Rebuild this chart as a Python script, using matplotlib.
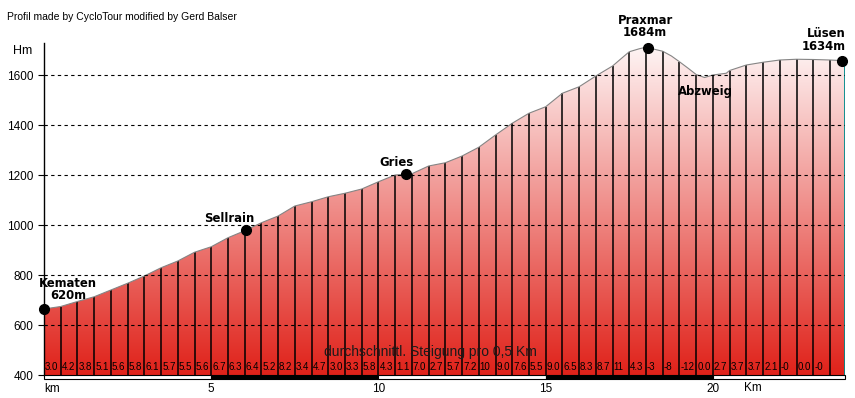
import numpy as np
import matplotlib
matplotlib.use("Agg")
import matplotlib.pyplot as plt
from matplotlib.colors import LinearSegmentedColormap
from matplotlib.patches import Polygon, Rectangle

# ---- data ----
profile_km = [0, 0.5, 1.0, 1.5, 2.0, 2.5, 3.0, 3.5, 4.0, 4.5, 5.0, 5.5, 6.0, 6.5, 7.0,
              7.5, 8.0, 8.5, 9.0, 9.5, 10.0, 10.5, 11.0, 11.5, 12.0, 12.5, 13.0, 13.5,
              14.0, 14.5, 15.0, 15.5, 16.0, 16.5, 17.0, 17.27, 17.5, 17.8, 18.0, 18.5,
              18.76, 19.0, 19.26, 19.5, 19.75, 20.0, 20.4, 20.5, 21.0, 21.5, 22.0,
              22.5, 23.0, 23.5, 23.95]
profile_elev = [664, 674, 694, 713, 740, 767, 796, 829, 856, 891, 913, 949, 977, 1009,
                1036, 1076, 1093, 1113, 1127, 1144, 1173, 1200, 1205, 1236, 1249, 1276,
                1311, 1360, 1407, 1447, 1473, 1527, 1553, 1596, 1636, 1667, 1693, 1705,
                1711, 1695, 1676, 1653, 1627, 1602, 1590, 1600, 1607, 1618, 1640, 1651,
                1660, 1663, 1662, 1660, 1657]

stop_names = ["Kematen", "Sellrain", "Gries", "Praxmar", "Abzweig", "Lüsen"]
stop_alt_labels = ["620m", "", "", "1684m", "", "1634m"]
stop_km = [0.0, 6.04, 10.82, 18.06, None, 23.86]

gradients = ["3.0", "4.2", "3.8", "5.1", "5.6", "5.8", "6.1", "5.7", "5.5", "5.6",
             "6.7", "6.3", "6.4", "5.2", "8.2", "3.4", "4.7", "3.0", "3.3", "5.8",
             "4.3", "1.1", "7.0", "2.7", "5.7", "7.2", "10", "9.0", "7.6", "5.5",
             "9.0", "6.5", "8.3", "8.7", "11", "4.3", "-3", "-8", "-12", "0.0",
             "2.7", "3.7", "3.7", "2.1", "-0", "0.0", "-0", ""]

y_ticks = [400, 600, 800, 1000, 1200, 1400, 1600]
x_tick_km = [5, 10, 15, 20]

# ---- figure ----
total = profile_km[-1]
YMIN, YMAX = 400, 1728
REG = ["Liberation Sans", "DejaVu Sans"]
BOLD = ["DejaVu Sans"]

fig = plt.figure(figsize=(8.55, 3.98), dpi=100)
fig.patch.set_facecolor("white")
ax = fig.add_axes([44 / 855, 23 / 398, 801 / 855, 332 / 398])

km = np.array(profile_km)
el = np.array(profile_elev)

# gradient fill clipped to the profile
cmap = LinearSegmentedColormap.from_list("rg", ["#e0221a", "#fffafa"])
grad = np.linspace(0, 1, 256).reshape(-1, 1)
img = ax.imshow(grad, extent=[0, total, 400, 1750], origin="lower", cmap=cmap,
                aspect="auto", zorder=1, interpolation="bilinear")
verts = list(zip(km, el)) + [(total, 400), (0, 400)]
poly = Polygon(verts, closed=True, facecolor="none", edgecolor="none",
               transform=ax.transData)
ax.add_patch(poly)
img.set_clip_path(poly)

# outline
ax.plot(km, el, color="#858585", lw=0.8, zorder=3)

# vertical lines every 0.5 km
xs = np.arange(0.5, total, 0.5)
tops = np.interp(xs, km, el)
ax.vlines(xs, 400, tops, color="black", lw=1.1, zorder=2)
ax.vlines(total, 400, el[-1], color="#008b8b", lw=1.3, zorder=3)

# dashed grid
for y in y_ticks[1:]:
    ax.axhline(y, color="black", lw=0.8, linestyle=(0, (3, 3)), zorder=4)

# dots
dk = [k for k in stop_km if k is not None]
ax.plot(dk, np.interp(dk, km, el), "o", color="black", ms=7, zorder=6, clip_on=False)

# stop labels (position in data coords: x, y of block centre, alignment)
label_pos = {
    "Kematen": (0.72, 742, "center"),
    "Sellrain": (5.53, 1024, "center"),
    "Gries": (10.55, 1252, "center"),
    "Praxmar": (17.97, 1795, "center"),
    "Abzweig": (19.79, 1536, "center"),
    "Lüsen": (23.97, 1740, "right"),
}
for name, alt in zip(stop_names, stop_alt_labels):
    x, y, ha = label_pos[name]
    txt = name + ("\n" + alt if alt else "")
    ax.text(x, y, txt, ha=ha, va="center", multialignment=ha, linespacing=0.95,
            fontsize=8.4, fontweight="bold", family=BOLD, zorder=7, clip_on=False)

# gradient labels
for i, g in enumerate(gradients):
    ax.text(i * 0.5 + 0.03, 432, g, ha="left", va="center", fontsize=7,
            family=REG, color="black", zorder=5)

ax.text(11.55, 492, "durchschnittl. Steigung pro 0,5 Km", ha="center", va="center",
        fontsize=10, family=REG, color="#1a1a1a", zorder=5)

# scale bar
for i in range(5):
    x0 = i * 5
    x1 = min((i + 1) * 5, total)
    ax.add_patch(Rectangle((x0, 384), x1 - x0, 15,
                           facecolor="white" if i % 2 == 0 else "black",
                           edgecolor="black", lw=0.8, clip_on=False, zorder=5))

# x labels
for k in x_tick_km:
    ax.text(k, 344, str(k), ha="center", va="center", fontsize=8.5, family=REG,
            clip_on=False)
ax.text(0, 344, "km", ha="left", va="center", fontsize=8.5, family=REG, clip_on=False)
ax.text(21.2, 348, "Km", ha="center", va="center", fontsize=8.5, family=REG,
        clip_on=False)

# y axis
ax.set_xlim(0, total)
ax.set_ylim(YMIN, YMAX)
ax.set_xticks([])
ax.set_yticks(y_ticks)
ax.set_yticklabels([str(v) for v in y_ticks], family=REG, fontsize=8.5)
ax.tick_params(axis="y", length=4.3, width=0.8, pad=3.5, direction="out")
for s in ["top", "right", "bottom"]:
    ax.spines[s].set_visible(False)
ax.spines["left"].set_linewidth(1.0)
ax.text(-0.63, 1696, "Hm", ha="center", va="center", fontsize=9, family=REG,
        clip_on=False)

fig.text(7 / 855, 1 - 16.5 / 398, "Profil made by CycloTour modified by Gerd Balser",
         ha="left", va="center", fontsize=7.5, family=REG)

fig.savefig("out.png", dpi=100, facecolor="white")
